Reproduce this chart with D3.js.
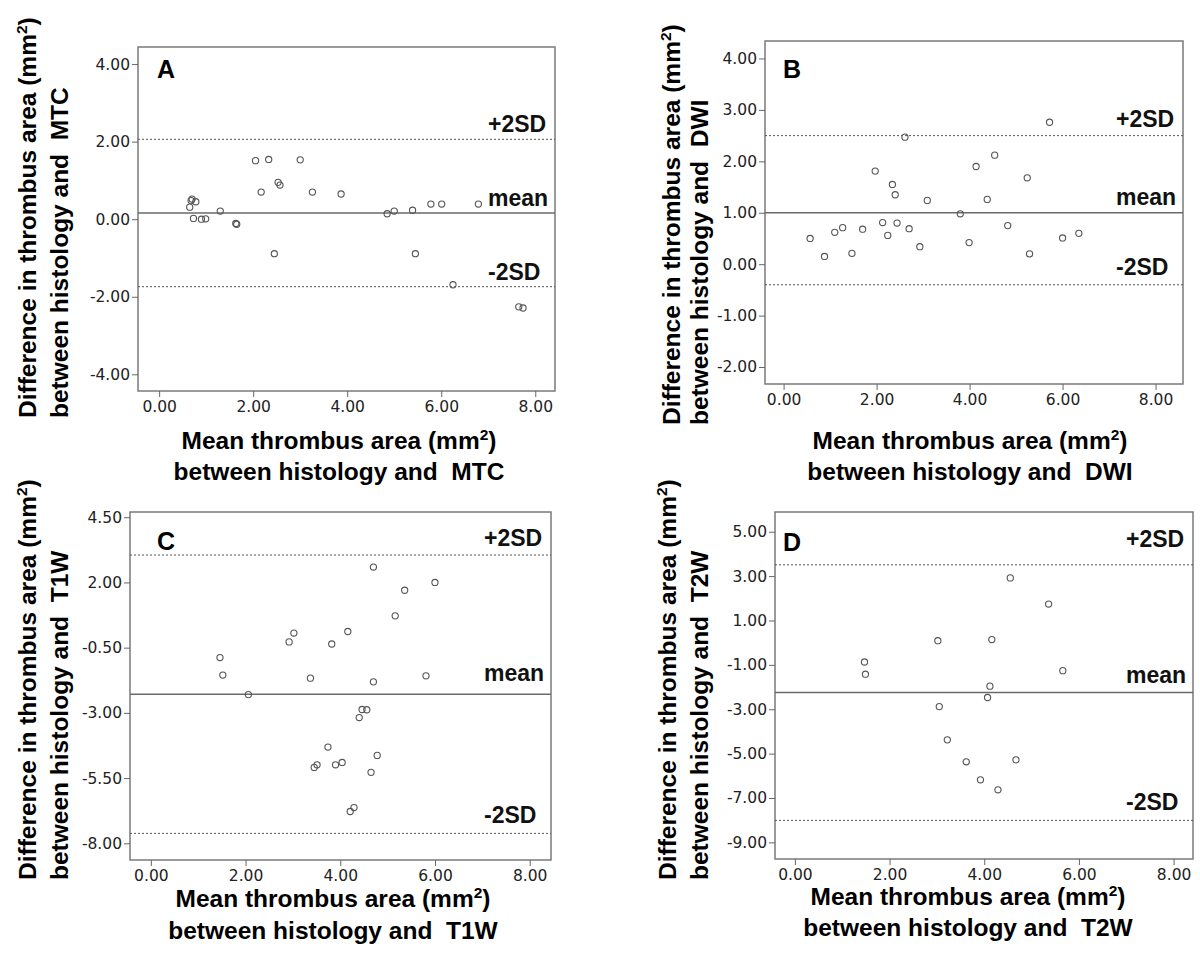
<!DOCTYPE html>
<html><head><meta charset="utf-8">
<script src="https://cdn.jsdelivr.net/npm/d3@7"></script>
<style>
body{margin:0;background:#fff;}
svg{display:block;}
</style></head><body>
<svg id="chart" width="1200" height="977"></svg>
<script>
// ---------- data ----------
const panelLetters = ["A", "B", "C", "D"];
const methodNames = ["MTC", "DWI", "T1W", "T2W"];
const limitLabels = ["+2SD", "mean", "-2SD"];
const xTickValues = [0, 2, 4, 6, 8];
const yTicksA = [-4, -2, 0, 2, 4];
const yTicksB = [-2, -1, 0, 1, 2, 3, 4];
const yTicksC = [-8, -5.5, -3, -0.5, 2, 4.5];
const yTicksD = [-9, -7, -5, -3, -1, 1, 3, 5];

const meanAreaA = [0.65, 0.68, 0.70, 0.78, 0.73, 0.90, 0.99, 1.30, 1.63, 1.65, 2.05, 2.33, 2.17, 2.53, 2.57, 3.00, 3.26, 3.87, 4.85, 5.00, 5.39, 5.78, 6.01, 6.79, 2.45, 5.45, 6.25, 7.65, 7.74];
const diffA     = [0.31, 0.48, 0.52, 0.45, 0.02, 0.00, 0.01, 0.21, -0.11, -0.13, 1.51, 1.54, 0.70, 0.95, 0.88, 1.53, 0.70, 0.65, 0.14, 0.21, 0.23, 0.39, 0.39, 0.39, -0.89, -0.89, -1.69, -2.26, -2.29];

const meanAreaB = [0.57, 0.88, 1.10, 1.27, 1.47, 1.70, 1.97, 2.13, 2.24, 2.34, 2.40, 2.44, 2.61, 2.70, 2.93, 3.09, 3.80, 3.99, 4.14, 4.38, 4.54, 4.82, 5.24, 5.29, 5.72, 6.00, 6.35];
const diffB     = [0.50, 0.15, 0.62, 0.71, 0.21, 0.68, 1.81, 0.81, 0.56, 1.55, 1.35, 0.80, 2.47, 0.69, 0.34, 1.24, 0.98, 0.42, 1.90, 1.26, 2.12, 0.75, 1.68, 0.20, 2.76, 0.51, 0.60];

const meanAreaC = [1.46, 1.52, 2.06, 2.92, 3.02, 3.37, 3.82, 4.16, 4.70, 5.36, 6.00, 5.16, 4.70, 5.81, 4.46, 4.56, 4.40, 3.74, 4.78, 3.45, 3.51, 3.90, 4.04, 4.65, 4.21, 4.29];
const diffC     = [-0.88, -1.55, -2.30, -0.28, 0.06, -1.67, -0.36, 0.12, 2.59, 1.70, 2.00, 0.72, -1.81, -1.58, -2.87, -2.88, -3.18, -4.31, -4.63, -5.09, -4.99, -4.99, -4.90, -5.28, -6.78, -6.63];

const meanAreaD = [1.47, 1.49, 3.02, 4.16, 4.55, 5.36, 5.66, 4.12, 4.07, 3.05, 3.22, 3.62, 4.67, 3.92, 4.29];
const diffD     = [-0.87, -1.42, 0.09, 0.14, 2.92, 1.74, -1.26, -1.96, -2.47, -2.88, -4.38, -5.37, -5.28, -6.18, -6.63];

const upperLines = [2.06, 2.50, 3.05, 3.51];
const meanLines  = [0.16, 1.00, -2.29, -2.25];
const lowerLines = [-1.74, -0.40, -7.62, -8.01];

// ---------- layout ----------
const frames = [
  {l: 138, t: 47, r: 555, b: 391},
  {l: 765, t: 41, r: 1183, b: 384},
  {l: 130, t: 512, r: 551, b: 860},
  {l: 775, t: 512, r: 1193, b: 859}
];
const xDomains = [[-0.45, 8.42], [-0.40, 8.59], [-0.44, 8.45], [-0.42, 8.41]];
const yDomains = [[-4.43, 4.44], [-2.33, 4.34], [-8.64, 4.70], [-9.75, 5.89]];
const yTickSets = [yTicksA, yTicksB, yTicksC, yTicksD];
const xSeries = [meanAreaA, meanAreaB, meanAreaC, meanAreaD];
const ySeries = [diffA, diffB, diffC, diffD];
const letterPos = [[19, 31], [18, 37], [27, 38], [8, 39]];
const labelGaps = [[7.6, 7.3, 6.7], [8.6, 7.7, 10], [9.3, 13, 10], [18, 9.4, 10.7]];
const yTitleX = [[36, 68], [680, 708], [36, 68], [676, 708]];
const yTitleStart = [418, 425, 880, 880];
const xTitleCx = [339, 970, 333, 968];
const xTitleY = [[449, 480], [449, 480], [907, 939], [905, 936]];

const svg = d3.select("#chart");
svg.append("rect").attr("width", 1200).attr("height", 977).attr("fill", "#fff");

const fmt = d => (d < 0 ? "-" : "") + Math.abs(d).toFixed(2);
const titleFont = "'Liberation Sans', Arial, sans-serif";
const tickFont = "'DejaVu Sans', Verdana, sans-serif";
const titleSize = 24.5;

function addMm2(textSel, before) {
  textSel.append("tspan").text(before + "(mm");
  textSel.append("tspan").text("2").attr("font-size", 15.5).attr("dy", -9);
  textSel.append("tspan").text(")").attr("dy", 9);
}

panelLetters.forEach((letter, i) => {
  const f = frames[i];
  const x = d3.scaleLinear().domain(xDomains[i]).range([f.l, f.r]);
  const y = d3.scaleLinear().domain(yDomains[i]).range([f.b, f.t]);
  const g = svg.append("g");

  // frame
  g.append("rect").attr("x", f.l).attr("y", f.t).attr("width", f.r - f.l).attr("height", f.b - f.t)
    .attr("fill", "none").attr("stroke", "#7a7a7a").attr("stroke-width", 1.5);

  // reference lines
  const refs = [upperLines[i], meanLines[i], lowerLines[i]];
  refs.forEach((v, k) => {
    g.append("line").attr("x1", f.l).attr("x2", f.r).attr("y1", y(v)).attr("y2", y(v))
      .attr("stroke", k === 1 ? "#6a6a6a" : "#555")
      .attr("stroke-width", k === 1 ? 1.5 : 1)
      .attr("stroke-dasharray", k === 1 ? null : "2,2");
    g.append("text").attr("x", f.r - 67).attr("y", y(v) - labelGaps[i][k])
      .attr("font-family", titleFont).attr("font-weight", "bold").attr("font-size", 23)
      .attr("fill", "#111").text(limitLabels[k]);
  });

  // points
  g.selectAll("circle.pt").data(xSeries[i].map((xv, j) => [xv, ySeries[i][j]]))
    .join("circle").attr("class", "pt")
    .attr("cx", d => x(d[0])).attr("cy", d => y(d[1])).attr("r", 3.1)
    .attr("fill", "none").attr("stroke", "#555").attr("stroke-width", 1.1);

  // axes
  const ax = g.append("g").attr("transform", `translate(${f.l},0)`)
    .call(d3.axisLeft(y).tickValues(yTickSets[i]).tickSize(6).tickPadding(2).tickFormat(fmt));
  const bx = g.append("g").attr("transform", `translate(0,${f.b})`)
    .call(d3.axisBottom(x).tickValues(xTickValues).tickSize(6).tickPadding(4).tickFormat(fmt));
  [ax, bx].forEach(a => {
    a.select(".domain").remove();
    a.selectAll("line").attr("stroke", "#666").attr("stroke-width", 1);
    a.selectAll("text").attr("font-family", tickFont).attr("font-size", 15.5).attr("fill", "#222");
  });

  // panel letter
  g.append("text").attr("x", f.l + letterPos[i][0]).attr("y", f.t + letterPos[i][1])
    .attr("font-family", titleFont).attr("font-weight", "bold").attr("font-size", 25)
    .attr("fill", "#000").text(letter);

  // y title (two lines, both starting at the same bottom position)
  const yt1 = g.append("text").attr("transform", `translate(${yTitleX[i][0]},${yTitleStart[i]}) rotate(-90)`)
    .attr("text-anchor", "start").attr("font-family", titleFont).attr("font-weight", "bold")
    .attr("font-size", titleSize).attr("fill", "#000");
  addMm2(yt1, "Difference in thrombus area ");
  g.append("text").attr("transform", `translate(${yTitleX[i][1]},${yTitleStart[i]}) rotate(-90)`)
    .attr("text-anchor", "start").attr("font-family", titleFont).attr("font-weight", "bold")
    .attr("font-size", titleSize).attr("fill", "#000").style("white-space", "pre")
    .text("between histology and  " + methodNames[i]);

  // x title
  const xt1 = g.append("text").attr("x", xTitleCx[i]).attr("y", xTitleY[i][0])
    .attr("text-anchor", "middle").attr("font-family", titleFont).attr("font-weight", "bold")
    .attr("font-size", titleSize).attr("fill", "#000");
  addMm2(xt1, "Mean thrombus area ");
  g.append("text").attr("x", xTitleCx[i]).attr("y", xTitleY[i][1])
    .attr("text-anchor", "middle").attr("font-family", titleFont).attr("font-weight", "bold")
    .attr("font-size", titleSize).attr("fill", "#000").style("white-space", "pre")
    .text("between histology and  " + methodNames[i]);
});
</script>
</body></html>
